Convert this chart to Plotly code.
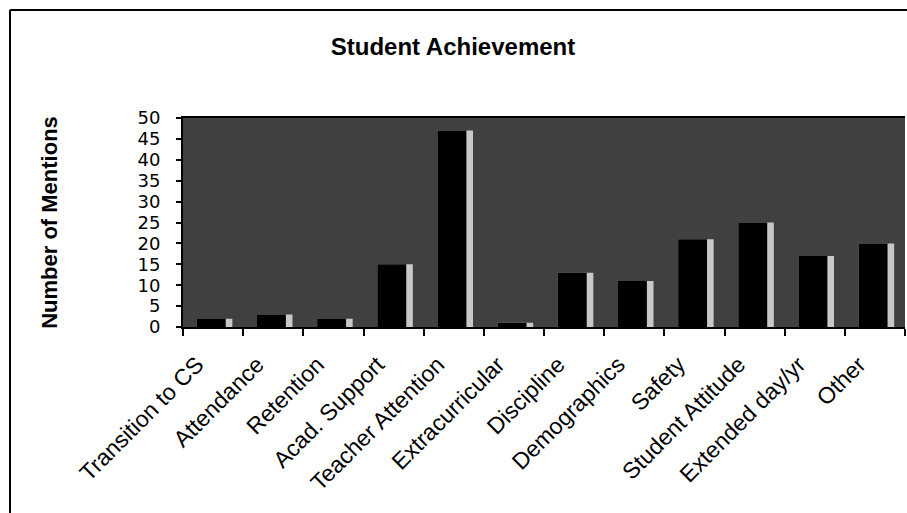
import plotly.graph_objects as go

categories = ["Transition to CS", "Attendance", "Retention", "Acad. Support",
              "Teacher Attention", "Extracurricular", "Discipline", "Demographics",
              "Safety", "Student Attitude", "Extended day/yr", "Other"]
mentions = [2, 3, 2, 15, 47, 1, 13, 11, 21, 25, 17, 20]
y_ticks = [0, 5, 10, 15, 20, 25, 30, 35, 40, 45, 50]

W, H = 907, 513
L, T = 183, 118
R = W - L - 722
B = H - T - 209
pw, ph = W - L - R, H - T - B

def px_x(p):
    return (p - L) / pw

def px_y(p):
    return (H - B - p) / ph

fig = go.Figure()
# light highlight (right edge of each bar)
fig.add_trace(go.Bar(x=categories, y=mentions, width=0.59, offset=-0.27,
                     marker=dict(color="#c8c8c8", line=dict(width=0)),
                     hoverinfo="skip", showlegend=False))
# main black bars
fig.add_trace(go.Bar(x=categories, y=mentions, width=0.48, offset=-0.27,
                     marker=dict(color="#000000", line=dict(width=0)),
                     showlegend=False))

fig.update_layout(
    width=W, height=H,
    margin=dict(l=L, r=R, t=T, b=B, autoexpand=False),
    paper_bgcolor="white",
    plot_bgcolor="#404040",
    barmode="overlay",
    font=dict(family="Liberation Sans, Arial, sans-serif", color="black"),
    title=dict(text="<b>Student Achievement</b>", x=453 / W, xanchor="center",
               xref="container", y=1 - 47 / H, yref="container", yanchor="middle",
               font=dict(size=24, family="Liberation Sans, Arial, sans-serif", color="black")),
    xaxis=dict(
        type="category", tickangle=-45, tickson="boundaries",
        ticks="outside", ticklen=7, tickwidth=2, tickcolor="black",
        showline=True, linecolor="black", linewidth=2, mirror=True,
        showgrid=False, zeroline=False,
        tickfont=dict(size=23, family="Liberation Sans, Arial, sans-serif"),
        ticklabelstandoff=13, ticklabelshift=-16,
        range=[-0.5, len(categories) - 0.5],
    ),
    yaxis=dict(
        range=[0, 50], tickvals=y_ticks, ticktext=[str(v) for v in y_ticks],
        ticks="outside", ticklen=5, tickwidth=2, tickcolor="black",
        showline=True, linecolor="black", linewidth=2,
        showgrid=False, zeroline=False,
        tickfont=dict(size=18, family="DejaVu Sans, sans-serif"),
        ticklabelstandoff=12,
        title=dict(text="<b>Number of Mentions</b>", standoff=74,
                   font=dict(size=22, family="Liberation Sans, Arial, sans-serif")),
    ),
    shapes=[
        dict(type="line", xref="paper", yref="paper",
             x0=px_x(10), x1=px_x(10), y0=px_y(10), y1=px_y(530),
             line=dict(color="black", width=2)),
        dict(type="line", xref="paper", yref="paper",
             x0=px_x(10), x1=px_x(930), y0=px_y(10), y1=px_y(10),
             line=dict(color="black", width=2)),
    ],
)

fig.write_html(
    "out.html",
    config={"displayModeBar": False},
    post_script="document.documentElement.style.margin='0';"
                "document.body.style.margin='0';"
                "document.body.style.overflow='hidden';",
)
